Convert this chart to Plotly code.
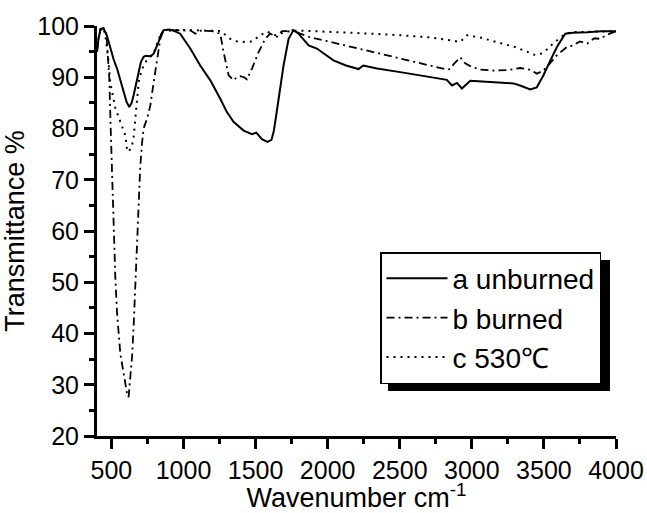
import plotly.graph_objects as go

# ---- data ----
wn_a = [400, 410, 425, 445, 470, 492, 515, 539, 562, 585, 605, 624, 640, 654, 670, 689, 705, 723, 740, 758,
        775, 793, 810, 827, 845, 862, 900, 930, 977, 1047, 1116, 1186, 1255, 1301, 1347, 1417, 1475, 1505,
        1544, 1583, 1610, 1625, 1640, 1659, 1694, 1729, 1763, 1798, 1868, 1925, 2040, 2127, 2191, 2214, 2247,
        2342, 2503, 2650, 2827, 2862, 2897, 2931, 2989, 3100, 3200, 3289, 3335, 3405, 3450, 3497, 3540, 3590,
        3648, 3700, 3800, 3900, 3983, 4000]
T_a = [95.0, 97.5, 99.4, 99.6, 98.0, 95.6, 93.5, 91.7, 89.5, 87.1, 85.2, 84.2, 85.0, 86.5, 88.6, 91.0, 93.0,
       94.0, 94.2, 94.1, 94.2, 94.6, 95.6, 96.9, 98.4, 99.2, 99.3, 99.1, 98.5, 95.6, 92.3, 89.4, 85.8, 83.2,
       81.3, 79.6, 78.9, 79.2, 77.9, 77.4, 77.8, 79.3, 82.0, 85.8, 92.3, 97.5, 99.2, 98.5, 96.2, 95.6, 93.3,
       92.3, 91.7, 91.6, 92.3, 91.7, 91.0, 90.3, 89.5, 88.4, 88.9, 87.8, 89.3, 89.1, 88.9, 88.8, 88.4, 87.6,
       88.0, 90.4, 93.0, 95.9, 98.5, 98.7, 98.8, 99.0, 99.0, 99.0]

wn_b = [400, 410, 425, 445, 465, 475, 485, 495, 505, 515, 527, 539, 562, 585, 608, 619, 631, 643, 654, 666,
        677, 689, 700, 712, 723, 747, 770, 793, 816, 839, 862, 950, 1050, 1082, 1120, 1200, 1255, 1278, 1313,
        1347, 1370, 1394, 1420, 1440, 1475, 1521, 1567, 1602, 1648, 1683, 1720, 1763, 1810, 1868, 2018, 2200,
        2365, 2500, 2650, 2827, 2850, 2873, 2919, 2954, 3000, 3058, 3150, 3250, 3335, 3400, 3451, 3490, 3521,
        3590, 3620, 3659, 3700, 3750, 3800, 3850, 3890, 3940, 3983, 4000]
T_b = [95.0, 97.5, 99.4, 99.5, 98.5, 95.0, 90.0, 80.0, 70.0, 58.0, 51.0, 44.0, 36.0, 32.2, 28.3, 27.6, 30.9,
       35.4, 41.3, 50.4, 58.2, 66.0, 72.5, 77.0, 80.0, 81.9, 84.5, 89.0, 93.7, 97.5, 99.2, 99.2, 99.1, 98.5,
       99.1, 99.0, 98.5, 94.9, 90.4, 89.4, 90.0, 90.2, 90.0, 89.6, 91.7, 94.9, 97.5, 98.5, 97.9, 99.0, 99.0,
       99.2, 98.5, 97.9, 96.9, 95.8, 94.6, 93.8, 92.8, 91.5, 91.6, 92.5, 93.9, 92.7, 92.0, 91.5, 91.3, 91.4,
       91.8, 91.5, 90.7, 91.2, 92.0, 94.3, 95.0, 95.9, 96.2, 97.0, 96.6, 97.6, 97.5, 98.3, 98.8, 98.9]

wn_c = [400, 410, 425, 445, 458, 469, 480, 492, 510, 527, 545, 562, 580, 596, 608, 619, 631, 643, 654, 666,
        677, 689, 700, 712, 723, 745, 770, 793, 804, 820, 839, 862, 950, 1050, 1150, 1255, 1290, 1324, 1370,
        1417, 1475, 1533, 1579, 1637, 1700, 1763, 1900, 2100, 2300, 2503, 2700, 2850, 2919, 2945, 2966, 3050,
        3197, 3300, 3400, 3440, 3480, 3520, 3560, 3590, 3648, 3700, 3800, 3900, 4000]
T_c = [95.0, 97.5, 99.4, 99.5, 98.2, 96.0, 93.0, 89.0, 86.0, 84.0, 82.6, 81.3, 79.8, 78.7, 76.1, 75.4, 76.0,
       76.7, 78.3, 82.6, 86.5, 89.0, 90.4, 91.5, 92.3, 93.3, 94.0, 94.6, 95.6, 96.8, 98.2, 99.0, 99.2, 99.2,
       99.1, 99.0, 98.3, 97.5, 97.0, 96.9, 97.0, 98.2, 98.9, 98.2, 98.8, 99.1, 99.0, 98.8, 98.5, 98.2, 97.8,
       97.2, 96.9, 97.6, 98.2, 97.8, 96.6, 95.9, 94.8, 94.3, 94.6, 95.4, 96.5, 97.2, 98.5, 98.8, 98.9, 99.0,
       99.0]

names = ["a unburned", "b burned", "c 530\u2103"]
x_ticks = [500, 1000, 1500, 2000, 2500, 3000, 3500, 4000]
y_ticks = [20, 30, 40, 50, 60, 70, 80, 90, 100]

FONT = "Liberation Sans, Arial, sans-serif"

fig = go.Figure()
fig.add_trace(go.Scatter(x=wn_a, y=T_a, mode="lines", name=names[0],
                         line=dict(color="black", width=2, dash="solid")))
fig.add_trace(go.Scatter(x=wn_b, y=T_b, mode="lines", name=names[1],
                         line=dict(color="black", width=1.8, dash="8px,4px,2px,4px")))
fig.add_trace(go.Scatter(x=wn_c, y=T_c, mode="lines", name=names[2],
                         line=dict(color="black", width=2, dash="2px,5px")))

W, H = 647, 513
ml, mr, mt, mb = 97, 31, 26, 77
pw, ph = W - ml - mr, H - mt - mb


def px2paper_x(p):
    return (p - ml) / pw


def px2paper_y(p):
    return (H - mb - p) / ph


# legend box (pixels, as drawn by plotly) and its drop shadow
lg_l, lg_t = 380, 252
lg_w, lg_h = 222, 131
off = 8
fig.add_shape(type="rect", xref="paper", yref="paper",
              x0=px2paper_x(lg_l + off), x1=px2paper_x(lg_l + lg_w + off),
              y0=px2paper_y(lg_t + lg_h + off), y1=px2paper_y(lg_t + off),
              fillcolor="black", line=dict(width=0), layer="below")

fig.update_layout(
    width=W, height=H,
    margin=dict(l=ml, r=mr, t=mt, b=mb, autoexpand=False),
    paper_bgcolor="white", plot_bgcolor="white",
    font=dict(family=FONT, color="black", size=25),
    showlegend=True,
    legend=dict(x=px2paper_x(lg_l), y=px2paper_y(lg_t), xanchor="left", yanchor="top",
                bgcolor="white", bordercolor="black", borderwidth=1.5,
                font=dict(size=28, family=FONT), itemwidth=61, tracegroupgap=0),
    xaxis=dict(range=[400, 4000], tickvals=x_ticks, showgrid=False, zeroline=False,
               showline=True, linecolor="black", linewidth=3, mirror=False, automargin=False,
               ticks="outside", ticklen=10, tickwidth=2.5, tickcolor="black",
               tickfont=dict(size=25),
               minor=dict(dtick=250, ticks="outside", ticklen=5, tickwidth=2.5, tickcolor="black",
                          showgrid=False),
               title=dict(text="Wavenumber cm<sup>-1</sup>", font=dict(size=27), standoff=11)),
    yaxis=dict(range=[20, 100], tickvals=y_ticks, showgrid=False, zeroline=False,
               showline=True, linecolor="black", linewidth=3, mirror=False, automargin=False,
               ticks="outside", ticklen=10, tickwidth=2.5, tickcolor="black",
               tickfont=dict(size=25),
               minor=dict(dtick=5, ticks="outside", ticklen=5, tickwidth=2.5, tickcolor="black",
                          showgrid=False),
               title=dict(text="Transmittance %", font=dict(size=27), standoff=6)),
)

fig.write_html("out.html")
